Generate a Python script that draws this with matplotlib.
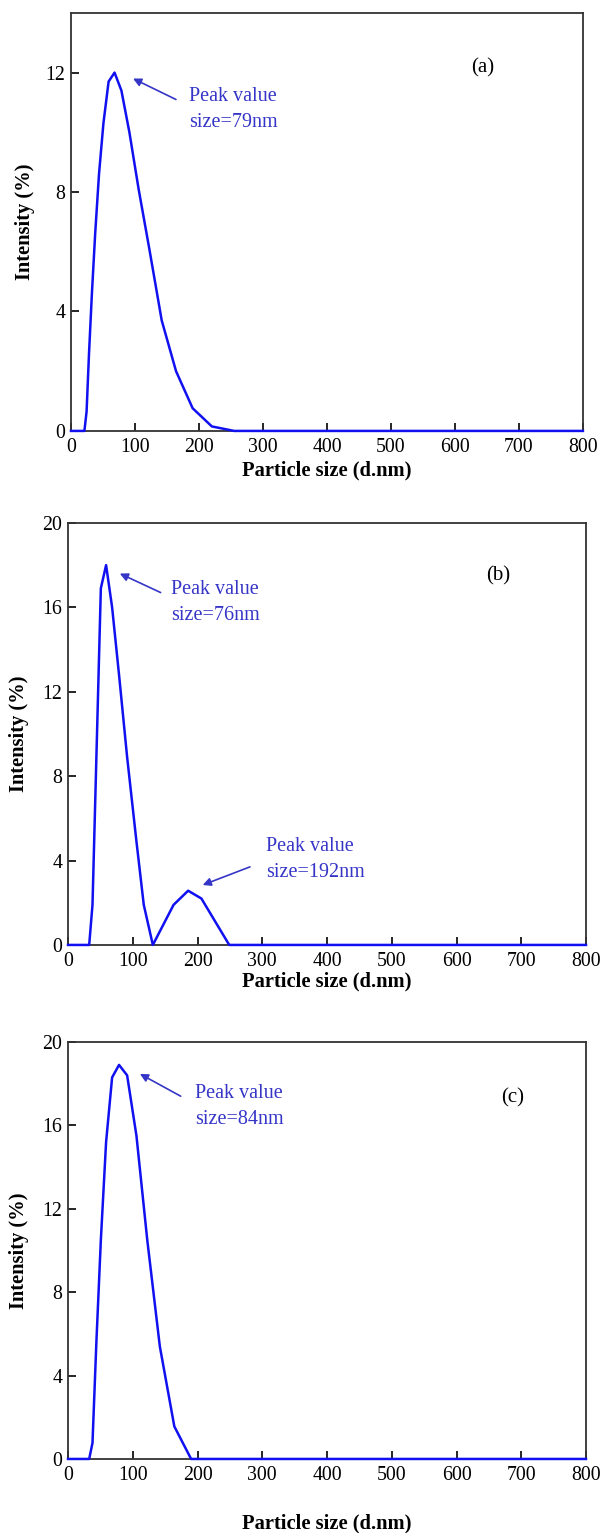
import matplotlib.pyplot as plt

plt.rcParams['font.family'] = ['Liberation Serif', 'DejaVu Serif']

# particle size (d.nm) and intensity (%)
size_a = [0, 21.0, 24.4, 28.2, 32.7, 37.8, 43.8, 50.7, 58.8, 68.1, 78.8, 91.3, 105.7, 122.4, 141.8, 164.2, 190.1, 220.2, 255.0, 800]
inten_a = [0, 0, 0.65, 2.6, 4.6, 6.6, 8.6, 10.3, 11.7, 12.0, 11.4, 10.0, 8.1, 6.1, 3.7, 2.0, 0.76, 0.15, 0, 0]

size_b = [0, 32.7, 37.8, 50.7, 58.8, 68.1, 78.8, 91.3, 105.7, 117.0, 131.0, 163.0, 185.5, 206.0, 249.0, 800]
inten_b = [0, 0, 1.9, 16.9, 18.0, 16.0, 12.8, 8.9, 4.9, 1.9, 0, 1.9, 2.57, 2.2, 0, 0]

size_c = [0, 32.7, 37.8, 43.8, 50.7, 58.8, 68.1, 78.8, 91.3, 105.7, 122.4, 141.8, 164.2, 190.1, 800]
inten_c = [0, 0, 0.77, 5.6, 10.5, 15.2, 18.3, 18.9, 18.4, 15.5, 10.5, 5.4, 1.56, 0, 0]

x_ticks = [0, 100, 200, 300, 400, 500, 600, 700, 800]

line_col = '#1010f0'
note_col = '#3535c8'

fig = plt.figure(figsize=(6.03, 15.33), dpi=100)
ax_a = fig.add_axes([0.1177, 0.7189, 0.849, 0.2727])
ax_b = fig.add_axes([0.1128, 0.3836, 0.859, 0.2753])
ax_c = fig.add_axes([0.1128, 0.0483, 0.859, 0.2720])

panels = [
    (ax_a, size_a, inten_a, 14, [0, 4, 8, 12], '(a)', (644, 12.16), -0.07, -0.071),
    (ax_b, size_b, inten_b, 20, [0, 4, 8, 12, 16, 20], '(b)', (664, 17.5), -0.064, -0.075),
    (ax_c, size_c, inten_c, 20, [0, 4, 8, 12, 16, 20], '(c)', (686, 17.3), -0.13, -0.075),
]

for ax, xs, ys, ytop, yt, tag, tagpos, xl_y, yl_x in panels:
    ax.plot(xs, ys, color=line_col, lw=1.8, clip_on=False, zorder=3)
    ax.set_xlim(0, 800)
    ax.set_ylim(0, ytop)
    ax.set_xticks(x_ticks)
    ax.set_yticks(yt)
    ax.tick_params(direction='in', length=6, width=1.2, labelsize=14.3)
    ax.tick_params(axis='x', pad=5)
    ax.tick_params(axis='y', pad=4)
    for s in ax.spines.values():
        s.set_linewidth(1.3)
        s.set_color('#333333')
    ax.set_xlabel('Particle size (d.nm)', fontsize=14.8, fontweight='bold')
    ax.set_ylabel('Intensity (%)', fontsize=14.8, fontweight='bold')
    ax.xaxis.set_label_coords(0.5, xl_y)
    ax.yaxis.set_label_coords(yl_x, 0.5)
    ax.text(tagpos[0], tagpos[1], tag, fontsize=15, ha='center', va='center')


def peak_note(ax, head, tail, txt_xy, label):
    ax.annotate('', xy=head, xytext=tail,
                arrowprops=dict(arrowstyle='-|>', color=note_col, lw=1.2,
                                mutation_scale=12, shrinkA=0, shrinkB=0))
    ax.text(txt_xy[0], txt_xy[1], 'Peak value\n' + label, color=note_col,
            fontsize=14.5, ha='left', va='center', linespacing=1.5)


peak_note(ax_a, (97, 11.8), (164, 11.1), (184, 10.75), 'size=79nm')
peak_note(ax_b, (80, 17.6), (143, 16.7), (159, 16.25), 'size=76nm')
peak_note(ax_b, (208, 2.84), (281, 3.7), (306, 4.03), 'size=192nm')
peak_note(ax_c, (111, 18.47), (174, 17.4), (196, 16.9), 'size=84nm')

plt.savefig('out.png', dpi=100)
